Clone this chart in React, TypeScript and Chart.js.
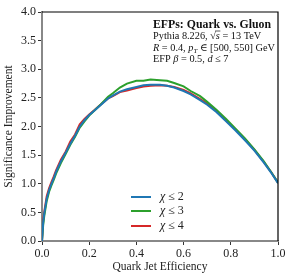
import React, { useEffect, useRef } from "react";
import { Chart, registerables } from "chart.js";

Chart.register(...registerables);

const efficiency = [0, 0.005, 0.01, 0.02, 0.03, 0.04, 0.05, 0.06, 0.08, 0.1, 0.12, 0.14, 0.16, 0.18, 0.2, 0.22, 0.25, 0.28, 0.3, 0.33, 0.36, 0.4, 0.43, 0.46, 0.5, 0.53, 0.56, 0.6, 0.63, 0.67, 0.7, 0.74, 0.78, 0.82, 0.86, 0.9, 0.94, 0.97, 1.0];
const chi2 = [0, 0.32, 0.49, 0.74, 0.89, 1.0, 1.1, 1.21, 1.39, 1.54, 1.7, 1.84, 2.0, 2.11, 2.2, 2.27, 2.38, 2.49, 2.54, 2.61, 2.65, 2.69, 2.72, 2.73, 2.73, 2.71, 2.68, 2.62, 2.56, 2.46, 2.38, 2.25, 2.09, 1.93, 1.76, 1.58, 1.37, 1.2, 1.01];
const chi3 = [0, 0.28, 0.45, 0.7, 0.86, 0.97, 1.07, 1.18, 1.36, 1.52, 1.68, 1.82, 1.98, 2.09, 2.19, 2.27, 2.39, 2.52, 2.58, 2.68, 2.75, 2.8, 2.8, 2.82, 2.81, 2.8, 2.76, 2.7, 2.62, 2.53, 2.43, 2.29, 2.13, 1.96, 1.79, 1.6, 1.39, 1.21, 1.02];
const chi4 = [0, 0.36, 0.52, 0.78, 0.92, 1.03, 1.13, 1.24, 1.42, 1.56, 1.74, 1.86, 2.04, 2.13, 2.21, 2.28, 2.39, 2.49, 2.53, 2.6, 2.63, 2.67, 2.7, 2.71, 2.72, 2.71, 2.69, 2.64, 2.58, 2.48, 2.4, 2.27, 2.11, 1.95, 1.78, 1.59, 1.38, 1.21, 1.02];
const seriesLabels = ["2", "3", "4"];
const seriesColors = ["#1f77b4", "#2ca02c", "#d62728"];
const xTicks = [0, 0.2, 0.4, 0.6, 0.8, 1.0];
const yTicks = [0, 0.5, 1, 1.5, 2, 2.5, 3, 3.5, 4];

const SERIF = "'Liberation Serif', 'DejaVu Serif', serif";

type Seg = { t: string; f: string; dy?: number; over?: boolean };

function drawSegs(ctx: CanvasRenderingContext2D, x: number, y: number, segs: Seg[]) {
  let cx = x;
  for (const s of segs) {
    ctx.font = s.f;
    const w = ctx.measureText(s.t).width;
    ctx.fillText(s.t, cx, y + (s.dy || 0));
    if (s.over) {
      ctx.beginPath();
      ctx.lineWidth = 0.7;
      ctx.moveTo(cx - 0.5, y - 8);
      ctx.lineTo(cx + w + 0.5, y - 8);
      ctx.stroke();
    }
    cx += w;
  }
}

const decorPlugin = {
  id: "decor",
  afterDraw(chart: any) {
    const ctx: CanvasRenderingContext2D = chart.ctx;
    const a = chart.chartArea;
    ctx.save();
    // top & right spines
    ctx.strokeStyle = "#000";
    ctx.lineWidth = 1.2;
    ctx.beginPath();
    ctx.moveTo(a.left, a.top);
    ctx.lineTo(a.right, a.top);
    ctx.lineTo(a.right, a.bottom);
    ctx.stroke();

    // annotation
    ctx.fillStyle = "#111";
    ctx.strokeStyle = "#111";
    ctx.textBaseline = "alphabetic";
    ctx.textAlign = "left";
    const ax = a.left + 111;
    const rm = `10.3px ${SERIF}`;
    const it = `italic 10.3px ${SERIF}`;
    const sub = `italic 7px ${SERIF}`;
    drawSegs(ctx, ax, a.top + 16, [{ t: "EFPs: Quark vs. Gluon", f: `bold 11.8px ${SERIF}` }]);
    drawSegs(ctx, ax, a.top + 27, [
      { t: "Pythia 8.226, ", f: rm },
      { t: "\u221A", f: rm },
      { t: "s", f: it, over: true },
      { t: " = 13 TeV", f: rm },
    ]);
    drawSegs(ctx, ax, a.top + 38.5, [
      { t: "R", f: it },
      { t: " = 0.4, ", f: rm },
      { t: "p", f: it },
      { t: "T", f: sub, dy: 2 },
      { t: " \u2208 [500, 550] GeV", f: rm },
    ]);
    drawSegs(ctx, ax, a.top + 50, [
      { t: "EFP ", f: rm },
      { t: "\u03B2", f: it },
      { t: " = 0.5, ", f: rm },
      { t: "d", f: it },
      { t: " \u2264 7", f: rm },
    ]);

    // legend
    const lx0 = a.left + 89;
    const lx1 = a.left + 109;
    const ly = [a.bottom - 44, a.bottom - 30, a.bottom - 15];
    seriesLabels.forEach((lab, i) => {
      ctx.strokeStyle = seriesColors[i];
      ctx.lineWidth = 2;
      ctx.beginPath();
      ctx.moveTo(lx0, ly[i]);
      ctx.lineTo(lx1, ly[i]);
      ctx.stroke();
      ctx.fillStyle = "#222";
      ctx.textBaseline = "middle";
      drawSegs(ctx, lx1 + 9, ly[i], [
        { t: "\u03C7", f: `italic 12px ${SERIF}` },
        { t: " \u2264 " + lab, f: `12px ${SERIF}` },
      ]);
    });
    ctx.restore();
  },
};

export default function App() {
  const ref = useRef<HTMLCanvasElement>(null);
  useEffect(() => {
    if (!ref.current) return;
    const mk = (vals: number[], i: number) => ({
      label: "\u03C7 \u2264 " + seriesLabels[i],
      data: efficiency.map((x, k) => ({ x, y: vals[k] })),
      borderColor: seriesColors[i],
      backgroundColor: seriesColors[i],
      borderWidth: 2,
      pointRadius: 0,
      tension: 0,
      fill: false,
    });
    const chart = new Chart(ref.current, {
      type: "line",
      data: { datasets: [mk(chi2, 0), mk(chi3, 1), mk(chi4, 2)] },
      options: {
        animation: false,
        responsive: false,
        maintainAspectRatio: false,
        layout: { padding: { top: 12, right: 23, left: 0, bottom: 0 } },
        plugins: { legend: { display: false }, tooltip: { enabled: false } },
        scales: {
          x: {
            type: "linear",
            min: 0,
            max: 1,
            afterFit: (s: any) => { s.height = 38; },
            afterBuildTicks: (s: any) => { s.ticks = xTicks.map((v) => ({ value: v })); },
            ticks: {
              callback: (v: any) => Number(v).toFixed(1),
              font: { family: SERIF, size: 12 },
              color: "#222",
              padding: 2,
              maxRotation: 0,
            },
            grid: { drawOnChartArea: false, drawTicks: true, tickLength: 4, color: "#333", lineWidth: 1 },
            border: { display: true, color: "#888", width: 2 },
            title: {
              display: true,
              text: "Quark Jet Efficiency",
              font: { family: SERIF, size: 11.5 },
              color: "#222",
              padding: { top: 0, bottom: 5 },
            },
          },
          y: {
            type: "linear",
            min: 0,
            max: 4,
            afterFit: (s: any) => { s.width = 42; },
            afterBuildTicks: (s: any) => { s.ticks = yTicks.map((v) => ({ value: v })); },
            ticks: {
              callback: (v: any) => Number(v).toFixed(1),
              font: { family: SERIF, size: 12 },
              color: "#222",
              padding: 2,
            },
            grid: { drawOnChartArea: false, drawTicks: true, tickLength: 4, color: "#333", lineWidth: 1 },
            border: { display: true, color: "#888", width: 2 },
            title: {
              display: true,
              text: "Significance Improvement",
              font: { family: SERIF, size: 11.5 },
              color: "#222",
              padding: { top: 2, bottom: 0 },
            },
          },
        },
      },
      plugins: [decorPlugin],
    } as any);
    return () => chart.destroy();
  }, []);
  return (
    <div style={{ position: "fixed", left: 0, top: 0, width: 301, height: 279, background: "#fff" }}>
      <canvas ref={ref} width={301} height={279} style={{ display: "block", width: 301, height: 279 }} />
    </div>
  );
}
